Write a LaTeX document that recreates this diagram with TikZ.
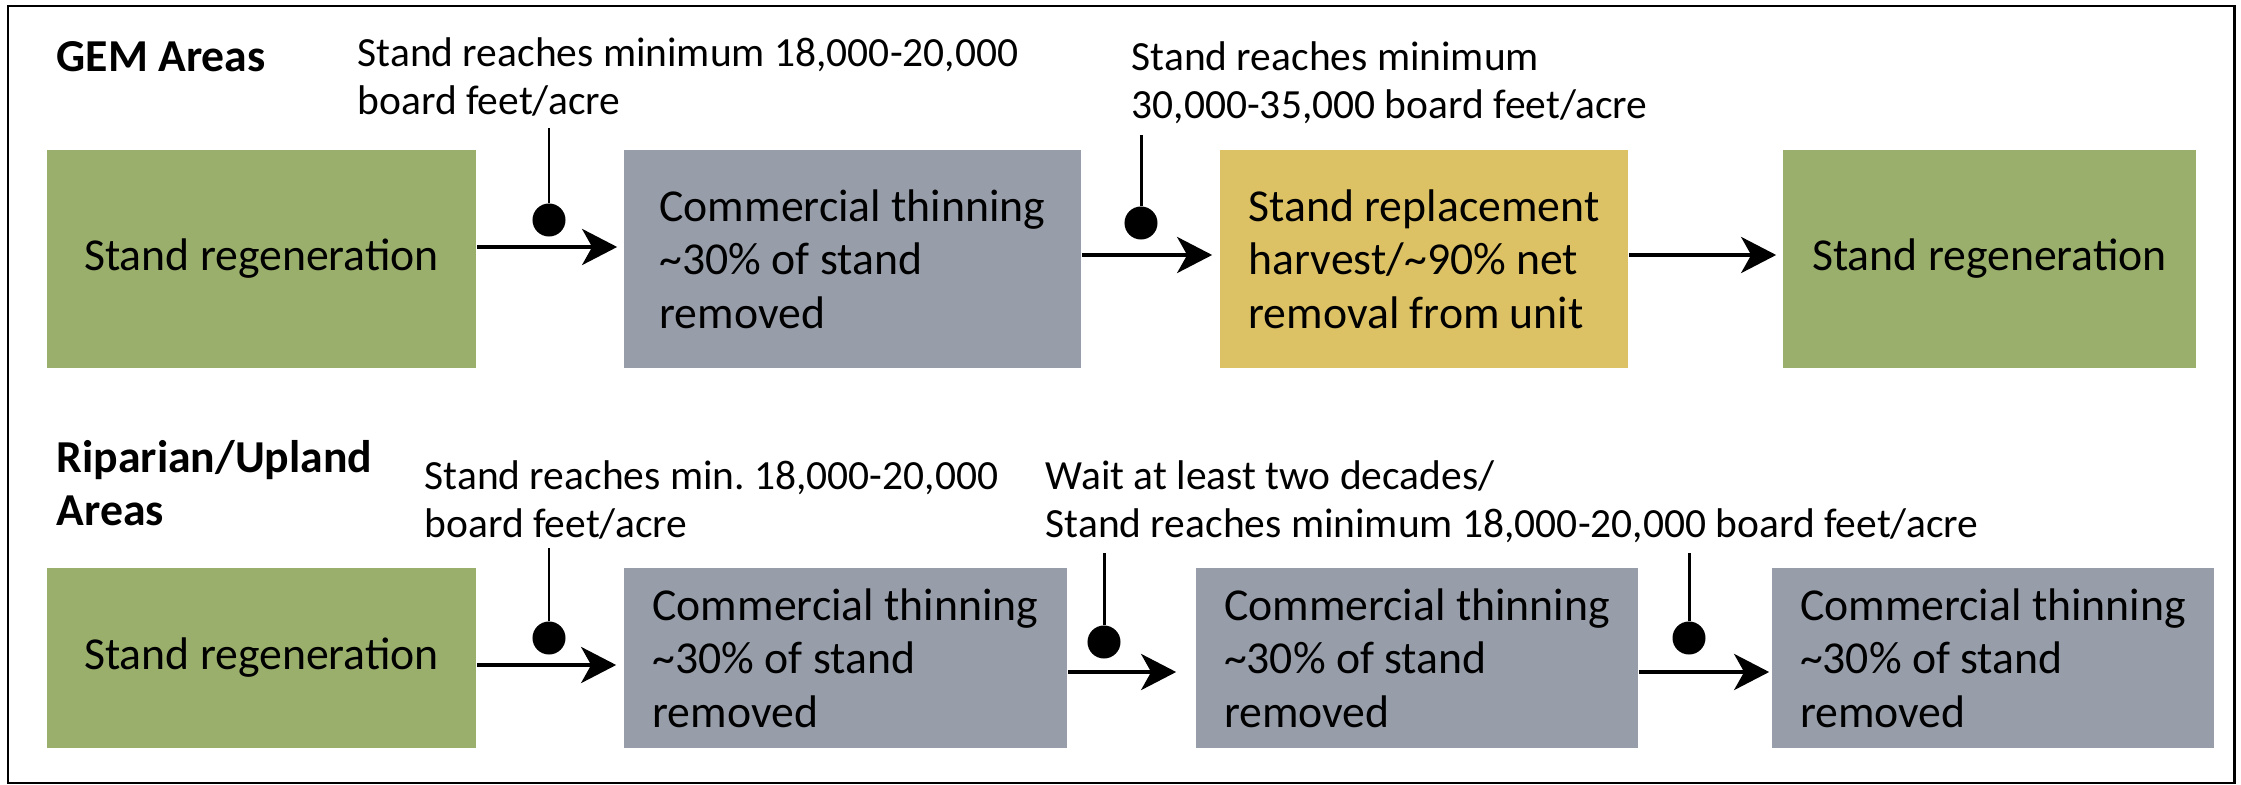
\documentclass[tikz,border=0pt]{standalone}
\usepackage{fontspec}
\setmainfont{Carlito}
\usetikzlibrary{arrows.meta}
\definecolor{regen}{HTML}{9AAF6B}
\definecolor{thin}{HTML}{979EAA}
\definecolor{harvest}{HTML}{DCC265}
\newcommand{\approxsign}{\textasciitilde}
\begin{document}
\frenchspacing
\begin{tikzpicture}[x=0.01cm,y=-0.01cm,
  stage/.style={draw=none,inner sep=0,align=left,font=\fontsize{13}{15.2}\selectfont},
  tall/.style={minimum width=#1,minimum height=2.18cm},
  short/.style={minimum width=#1,minimum height=1.80cm},
  note/.style={anchor=north west,inner sep=0,align=left,font=\fontsize{11.8}{13.7}\selectfont},
  area/.style={anchor=north west,inner sep=0,align=left,font=\fontsize{13}{15}\selectfont\bfseries},
  pin/.style={circle,fill=black,inner sep=0,minimum size=0.33cm},
  flow/.style={-{Stealth[length=3.5mm,width=3.6mm,inset=1mm]},line width=1.15pt}]
  \useasboundingbox (0,0) rectangle (2241,785);
  \draw[line width=0.85pt] (8,6) rectangle (2234,783);

  % GEM areas
  \node[area] (gem) at (56,41) {GEM Areas};
  \node[stage,tall=4.29cm,fill=regen] (g1) at (261.5,259) {Stand regeneration};
  \node[stage,tall=4.57cm,fill=thin] (c1) at (852.5,259) {Commercial thinning\\\approxsign30\% of stand\\removed};
  \node[stage,tall=4.08cm,fill=harvest] (y1) at (1424,259) {Stand replacement\\harvest/\approxsign90\% net\\removal from unit};
  \node[stage,tall=4.13cm,fill=regen] (g2) at (1989.5,259) {Stand regeneration};
  \node[note] (n1) at (357,37) {Stand reaches minimum 18,000-20,000\\board feet/acre};
  \node[note] (n2) at (1131,41) {Stand reaches minimum\\30,000-35,000 board feet/acre};
  \coordinate (t1) at (549,128);
  \node[pin] (p1) at (549,220) {};
  \coordinate (t2) at (1141,135);
  \node[pin] (p2) at (1141,223) {};
  \draw[line width=0.85pt] (t1) -- (p1);
  \draw[line width=0.85pt] (t2) -- (p2);
  \draw[flow,shorten >=0.06cm] ([yshift=0.12cm]g1.east) -- ([yshift=0.12cm]c1.west);
  \draw[flow,shorten >=0.07cm] ([yshift=0.04cm]c1.east) -- ([yshift=0.04cm]y1.west);
  \draw[flow,shorten >=0.06cm] ([yshift=0.04cm]y1.east) -- ([yshift=0.04cm]g2.west);

  % riparian / upland areas
  \node[area] (rip) at (56,440) {Riparian/Upland\\Areas};
  \node[stage,short=4.29cm,fill=regen] (g3) at (261.5,658) {Stand regeneration};
  \node[stage,short=4.43cm,fill=thin] (c2) at (845.5,658) {Commercial thinning\\\approxsign30\% of stand\\removed};
  \node[stage,short=4.42cm,fill=thin] (c3) at (1417,658) {Commercial thinning\\\approxsign30\% of stand\\removed};
  \node[stage,short=4.42cm,fill=thin] (c4) at (1993,658) {Commercial thinning\\\approxsign30\% of stand\\removed};
  \node[note] (n3) at (424,460) {Stand reaches min. 18,000-20,000\\board feet/acre};
  \node[note] (n4) at (1045,460) {Wait at least two decades/\\Stand reaches minimum 18,000-20,000 board feet/acre};
  \coordinate (t3) at (549,548);
  \node[pin] (p3) at (549,638) {};
  \coordinate (t4) at (1104,553);
  \node[pin] (p4) at (1104,642) {};
  \coordinate (t5) at (1689,553);
  \node[pin] (p5) at (1689,638) {};
  \draw[line width=0.85pt] (t3) -- (p3);
  \draw[line width=0.85pt] (t4) -- (p4);
  \draw[line width=0.85pt] (t5) -- (p5);
  \draw[flow,shorten >=0.07cm] ([yshift=-0.07cm]g3.east) -- ([yshift=-0.07cm]c2.west);
  \draw[flow,shorten >=0.19cm] ([yshift=-0.14cm]c2.east) -- ([yshift=-0.14cm]c3.west);
  \draw[flow,shorten >=0.02cm] ([yshift=-0.14cm]c3.east) -- ([yshift=-0.14cm]c4.west);
\end{tikzpicture}
\end{document}
